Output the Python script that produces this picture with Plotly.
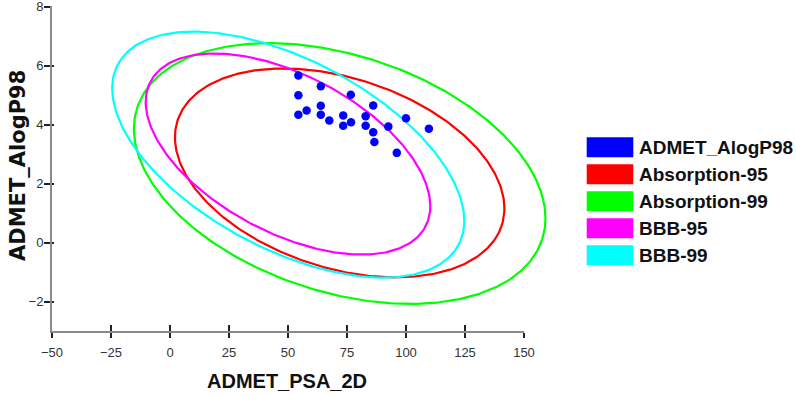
import numpy as np
import plotly.graph_objects as go

# ---- data ----
PSA_2D = [54.4, 63.9, 54.4, 76.6, 63.9, 86.1, 57.9, 54.4, 63.9, 73.4, 82.9,
          67.5, 76.7, 73.4, 82.9, 92.5, 100.0, 109.7, 86.1, 86.6, 96.1]
ALOGP98 = [5.66, 5.30, 4.99, 5.01, 4.64, 4.65, 4.48, 4.33, 4.33, 4.31, 4.28,
           4.14, 4.08, 3.96, 3.96, 3.93, 4.21, 3.86, 3.74, 3.41, 3.04]

ELLIPSE_NAMES = ["Absorption-95", "Absorption-99", "BBB-95", "BBB-99"]
ELLIPSE_CX = [71.9, 71.9, 50.0, 50.1]
ELLIPSE_CY = [2.36, 2.34, 3.00, 2.98]
ELLIPSE_RX = [69.8, 87.2, 60.3, 74.6]
ELLIPSE_RY = [3.54, 4.42, 3.41, 4.17]
ELLIPSE_RHO = [-0.341, -0.343, -0.518, -0.538]
ELLIPSE_COLORS = ["#ff0000", "#00ff00", "#ff00ff", "#00ffff"]

SERIES_NAME = "ADMET_AlogP98"
SERIES_COLOR = "#0000ff"

X_TITLE = "ADMET_PSA_2D"
Y_TITLE = "ADMET_AlogP98"
X_RANGE = [-50, 150]
Y_RANGE = [-3, 8.02]

# ---- layout geometry (pixels) ----
W, H = 796, 396
ML, MT, MB = 52, 6, 65
AXIS_RIGHT_PX = 524          # where the visible x axis ends (x = 150)
DRAW_RIGHT_PX = 566          # data may be drawn past the axis end
MR = W - DRAW_RIGHT_PX
PW, PH = W - ML - MR, H - MT - MB
AXIS_FRAC = (AXIS_RIGHT_PX - ML) / PW
X3_RANGE = [X_RANGE[0], X_RANGE[0] + (X_RANGE[1] - X_RANGE[0]) / AXIS_FRAC]


def px_to_paper_x(px):
    return (px - ML) / PW


def px_to_paper_y(py):
    return (H - MB - py) / PH


fig = go.Figure()

# anchor traces for the visible axes
fig.add_trace(go.Scatter(x=[], y=[], xaxis="x", yaxis="y", showlegend=False))
fig.add_trace(go.Scatter(x=[], y=[], xaxis="x2", yaxis="y2", showlegend=False))

t = np.linspace(0, 2 * np.pi, 361)
for name, cx, cy, rx, ry, rho, col in zip(ELLIPSE_NAMES, ELLIPSE_CX, ELLIPSE_CY,
                                          ELLIPSE_RX, ELLIPSE_RY, ELLIPSE_RHO,
                                          ELLIPSE_COLORS):
    ex = cx + rx * np.cos(t)
    ey = cy + ry * (rho * np.cos(t) + np.sqrt(1 - rho ** 2) * np.sin(t))
    fig.add_trace(go.Scatter(x=ex, y=ey, mode="lines", name=name,
                             xaxis="x3", yaxis="y",
                             line=dict(color=col, width=2.2),
                             showlegend=False, hoverinfo="skip"))

fig.add_trace(go.Scatter(x=PSA_2D, y=ALOGP98, mode="markers", name=SERIES_NAME,
                         xaxis="x3", yaxis="y",
                         marker=dict(color=SERIES_COLOR, size=8.5, line=dict(width=0)),
                         showlegend=False))

tickfont = dict(family="Liberation Sans, Arial, sans-serif", size=13, color="#333333")

fig.update_layout(
    width=W, height=H,
    margin=dict(l=ML, r=MR, t=MT, b=MB, autoexpand=False),
    paper_bgcolor="white", plot_bgcolor="rgba(0,0,0,0)",
    showlegend=False,
    xaxis=dict(range=X_RANGE, domain=[0, AXIS_FRAC], tick0=-50, dtick=25,
               showgrid=False, zeroline=False,
               showline=True, linecolor="#8a8a8a", linewidth=2,
               ticks="outside", ticklen=5, tickwidth=1.6, tickcolor="#222",
               tickfont=tickfont, ticklabelstandoff=3, ticklabeloverflow="allow"),
    yaxis=dict(range=Y_RANGE, anchor="x", tick0=0, dtick=2, showgrid=False, zeroline=False,
               showline=True, linecolor="#8a8a8a", linewidth=2,
               ticks="outside", ticklen=6, tickwidth=1.6, tickcolor="#222",
               tickfont=tickfont, ticklabelstandoff=-2, ticklabeloverflow="allow"),
    xaxis2=dict(range=X_RANGE, tick0=-50, dtick=25, overlaying="x", anchor="y",
                side="bottom", showgrid=False, zeroline=False, showline=False,
                ticks="inside", ticklen=6, tickwidth=1.6, tickcolor="#222",
                showticklabels=False),
    yaxis2=dict(range=Y_RANGE, tick0=0, dtick=2, overlaying="y", anchor="x",
                side="left", showgrid=False, zeroline=False, showline=False,
                ticks="inside", ticklen=2, tickwidth=1.6, tickcolor="#222",
                showticklabels=False),
    xaxis3=dict(range=X3_RANGE, domain=[0, 1], anchor="y", visible=False,
                showgrid=False, zeroline=False),
)

# axis titles
fig.add_annotation(text=X_TITLE, xref="paper", yref="paper",
                   x=px_to_paper_x(287), y=px_to_paper_y(381),
                   xanchor="center", yanchor="middle", showarrow=False,
                   font=dict(family="Liberation Sans, Arial, sans-serif", size=20,
                             color="#111", weight="bold"))
fig.add_annotation(text=Y_TITLE, xref="paper", yref="paper",
                   x=px_to_paper_x(18), y=px_to_paper_y(166), textangle=-90,
                   xanchor="center", yanchor="middle", showarrow=False,
                   font=dict(family="DejaVu Sans, sans-serif", size=21,
                             color="#111", weight="bold"))

# legend drawn manually (large colour blocks)
legend_names = [SERIES_NAME] + ELLIPSE_NAMES
legend_colors = [SERIES_COLOR] + ELLIPSE_COLORS
for i, (nm, col) in enumerate(zip(legend_names, legend_colors)):
    top = 137.3 + 27 * i
    fig.add_shape(type="rect", xref="paper", yref="paper",
                  x0=px_to_paper_x(586.7), x1=px_to_paper_x(633.3),
                  y0=px_to_paper_y(top + 20), y1=px_to_paper_y(top),
                  fillcolor=col, line=dict(width=0))
    fig.add_annotation(text=nm, xref="paper", yref="paper",
                       x=px_to_paper_x(637), y=px_to_paper_y(top + 10.5),
                       xanchor="left", yanchor="middle", showarrow=False,
                       font=dict(family="Liberation Sans, Arial, sans-serif", size=19,
                                 color="#111", weight="bold"))

fig.write_html("out.html",
               config={"displayModeBar": False},
               post_script="document.body.style.margin='0';document.body.style.overflow='hidden';")
